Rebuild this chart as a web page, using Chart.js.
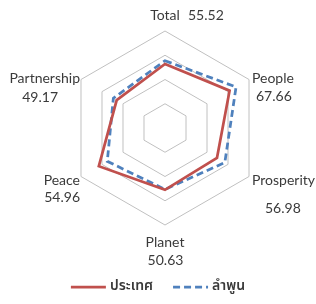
<!DOCTYPE html>
<html><head><meta charset="utf-8">
<script src="https://cdn.jsdelivr.net/npm/chart.js@4/dist/chart.umd.min.js"></script>
<style>html,body{margin:0;padding:0;background:#fff}#wrap{width:316px;height:304px;position:relative}canvas{display:block}</style>
</head><body><div id="wrap"><canvas id="c" width="316" height="304"></canvas></div>
<script>
const categories = ['Total', 'People', 'Prosperity', 'Planet', 'Peace', 'Partnership'];
const seriesNames = ['ประเทศ', 'ลำพูน'];
const countryValues = [52.8, 61.5, 49.5, 51.0, 63.0, 46.0];
const lamphunValues = [55.52, 67.66, 56.98, 50.63, 54.96, 49.17];
const tickValues = [0, 20, 40, 60, 80];

const TEXT_COLOR = '#3A3A3A';
const LABEL_FONT = '14px Lato, "Liberation Sans", sans-serif';
const LEGEND_FONT = '600 14px "Noto Sans Thai", "Noto Sans", Lato, sans-serif';

// label placement relative to each axis end point (styling only)
const labelStyle = [
  {lx: 0, ly: -16, la: 'center', vx: 23, vy: -16, va: 'left'},
  {lx: 3, ly: -1.5, la: 'left', vx: 7, vy: 16.5, va: 'left'},
  {lx: 3, ly: 3.5, la: 'left', vx: 16, vy: 31.5, va: 'left'},
  {lx: 0, ly: 17, la: 'center', vx: 0.5, vy: 35, va: 'center'},
  {lx: -1, ly: 3.5, la: 'right', vx: -1, vy: 20.5, va: 'right'},
  {lx: -1, ly: -1.5, la: 'right', vx: -23, vy: 17.5, va: 'right'}
];

const axisLabelPlugin = {
  id: 'axisLabels',
  afterDraw(chart) {
    const s = chart.scales.r;
    const ctx = chart.ctx;
    ctx.save();
    ctx.font = LABEL_FONT;
    ctx.fillStyle = TEXT_COLOR;
    ctx.textBaseline = 'middle';
    categories.forEach((name, i) => {
      const p = s.getPointPosition(i, s.drawingArea);
      const st = labelStyle[i];
      ctx.textAlign = st.la;
      ctx.fillText(name, p.x + st.lx, p.y + st.ly);
      ctx.textAlign = st.va;
      ctx.fillText(lamphunValues[i].toFixed(2), p.x + st.vx, p.y + st.vy);
    });
    ctx.restore();
  }
};

const legendPlugin = {
  id: 'lineLegend',
  afterDraw(chart) {
    const ctx = chart.ctx;
    ctx.save();
    ctx.font = LEGEND_FONT;
    const lineLen = 35, gap = 4, spacing = 20;
    const items = chart.data.datasets.map(d => ({d, w: lineLen + gap + ctx.measureText(d.label).width}));
    const total = items.reduce((a, it) => a + it.w, 0) + spacing * (items.length - 1);
    let x = chart.width / 2 - total / 2;
    const y = 287;
    items.forEach(it => {
      const d = it.d;
      ctx.strokeStyle = d.borderColor;
      ctx.lineWidth = d.borderWidth;
      ctx.setLineDash(d.borderDash || []);
      ctx.beginPath();
      ctx.moveTo(x, y);
      ctx.lineTo(x + lineLen, y);
      ctx.stroke();
      ctx.setLineDash([]);
      ctx.fillStyle = TEXT_COLOR;
      ctx.textAlign = 'left';
      ctx.textBaseline = 'middle';
      ctx.fillText(d.label, x + lineLen + gap, y);
      x += it.w + spacing;
    });
    ctx.restore();
  }
};

new Chart(document.getElementById('c'), {
  type: 'radar',
  data: {
    labels: categories,
    datasets: [
      {label: seriesNames[0], data: countryValues, borderColor: '#C0504D', backgroundColor: 'transparent',
       borderWidth: 2.75, fill: false, pointRadius: 0, pointHoverRadius: 0, tension: 0},
      {label: seriesNames[1], data: lamphunValues, borderColor: '#4F81BD', backgroundColor: 'transparent',
       borderWidth: 2.75, borderDash: [7, 4], fill: false, pointRadius: 0, pointHoverRadius: 0, tension: 0}
    ]
  },
  options: {
    responsive: false,
    devicePixelRatio: 1,
    animation: false,
    layout: {padding: {left: 60, right: 46, top: 31, bottom: 78}},
    plugins: {legend: {display: false}, tooltip: {enabled: false}},
    scales: {
      r: {
        min: tickValues[0],
        max: tickValues[tickValues.length - 1],
        ticks: {display: false, stepSize: tickValues[1] - tickValues[0]},
        angleLines: {display: false},
        grid: {color: '#C0C0C0', lineWidth: 1},
        pointLabels: {display: false}
      }
    }
  },
  plugins: [axisLabelPlugin, legendPlugin]
});
</script></body></html>
